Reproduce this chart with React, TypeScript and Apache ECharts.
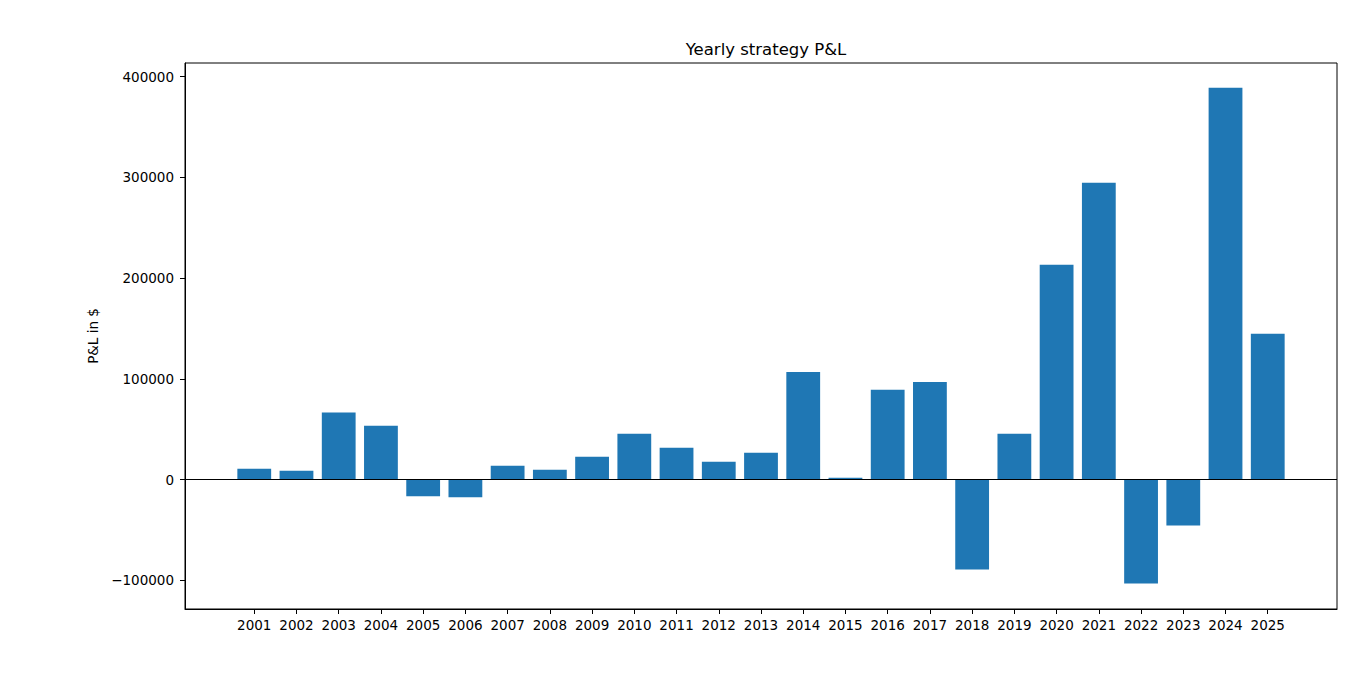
import { useEffect, useRef } from 'react'
import * as echarts from 'echarts'

// Data
const years: number[] = [
  2001, 2002, 2003, 2004, 2005, 2006, 2007, 2008, 2009, 2010, 2011, 2012, 2013,
  2014, 2015, 2016, 2017, 2018, 2019, 2020, 2021, 2022, 2023, 2024, 2025
]
const pnl: number[] = [
  10900, 8900, 66600, 53500, -16500, -17500, 13900, 9900, 22800, 45500, 31700, 17800, 26700,
  106900, 2000, 89100, 97000, -89100, 45500, 213300, 294600, -103000, -45500, 388900, 144800
]
const yTicks: number[] = [-100000, 0, 100000, 200000, 300000, 400000]

const FONT = 'DejaVu Sans'

const App: React.FC = () => {
  const chartRef = useRef<HTMLDivElement | null>(null)

  useEffect(() => {
    if (chartRef.current === null) return
    const chart = echarts.init(chartRef.current, null, { renderer: 'svg' })
    chart.setOption({
      animation: false,
      title: {
        text: 'Yearly strategy P&L',
        left: 761,
        textAlign: 'center',
        top: 36,
        textStyle: { color: '#000', fontFamily: FONT, fontSize: 16.5, fontWeight: 'normal' }
      },
      grid: {
        left: 185,
        right: 26,
        top: 63,
        bottom: 65,
        show: true,
        borderColor: '#000',
        borderWidth: 1,
        backgroundColor: 'transparent'
      },
      xAxis: {
        type: 'value',
        min: 1999.36,
        max: 2026.64,
        splitLine: { show: false },
        axisLine: { show: true, onZero: false, lineStyle: { color: '#000', width: 1 } },
        axisTick: { show: true, length: 5, customValues: years, lineStyle: { color: '#000' } },
        axisLabel: {
          customValues: years,
          margin: 9,
          color: '#000',
          fontFamily: FONT,
          fontSize: 13.5,
          formatter: (v: number) => String(v)
        }
      },
      yAxis: {
        type: 'value',
        min: -128300,
        max: 413400,
        name: 'P&L in $',
        nameLocation: 'middle',
        nameGap: 75,
        nameRotate: 90,
        nameTextStyle: { color: '#000', fontFamily: FONT, fontSize: 13.5 },
        splitLine: { show: false },
        axisLine: { show: true, onZero: false, lineStyle: { color: '#000', width: 1 } },
        axisTick: { show: true, length: 5, customValues: yTicks, lineStyle: { color: '#000' } },
        axisLabel: {
          customValues: yTicks,
          margin: 11,
          color: '#000',
          fontFamily: FONT,
          fontSize: 13.5,
          formatter: (v: number) => String(v).replace('-', '\u2212')
        }
      },
      series: [
        {
          type: 'bar',
          barWidth: 33.8,
          itemStyle: { color: '#1f77b4' },
          data: years.map((y, i) => [y, pnl[i]]),
          markLine: {
            silent: true,
            symbol: 'none',
            label: { show: false },
            lineStyle: { color: '#000', width: 1, type: 'solid' },
            data: [{ yAxis: 0 }]
          }
        }
      ]
    })
    return () => {
      chart.dispose()
    }
  }, [])

  return (
    <div ref={chartRef} style={{ width: 1363, height: 674, margin: -8 }}></div>
  )
}

export default App
